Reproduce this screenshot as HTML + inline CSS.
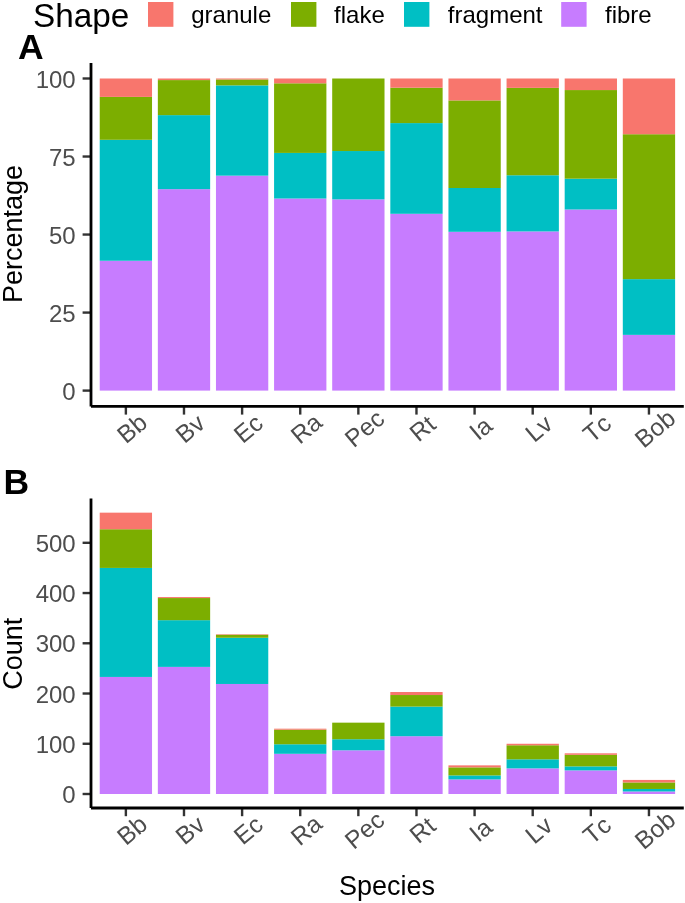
<!DOCTYPE html>
<html><head><meta charset="utf-8"><style>
html,body{margin:0;padding:0;background:#fff;}
body{width:685px;height:903px;overflow:hidden;}
svg{display:block;will-change:transform;}
text{font-family:"Liberation Sans",sans-serif;font-kerning:none;}
.tk{font-size:24px;fill:#4D4D4D;}
.ti{font-size:27px;fill:#000;}
.lg{font-size:24px;fill:#000;}
.sh{font-size:33.3px;fill:#000;}
.tag{font-size:35.5px;fill:#000;font-weight:bold;}
</style></head><body>
<svg width="685" height="903" viewBox="0 0 685 903">
<rect width="685" height="903" fill="#fff"/>
<rect x="99.72" y="260.74" width="52.31" height="129.86" fill="#C77CFF"/>
<rect x="99.72" y="139.81" width="52.31" height="120.94" fill="#00BFC4"/>
<rect x="99.72" y="96.89" width="52.31" height="42.91" fill="#7CAE00"/>
<rect x="99.72" y="78.5" width="52.31" height="18.39" fill="#F8766D"/>
<rect x="157.84" y="189.17" width="52.31" height="201.43" fill="#C77CFF"/>
<rect x="157.84" y="115.12" width="52.31" height="74.04" fill="#00BFC4"/>
<rect x="157.84" y="80.09" width="52.31" height="35.03" fill="#7CAE00"/>
<rect x="157.84" y="78.5" width="52.31" height="1.59" fill="#F8766D"/>
<rect x="215.96" y="175.66" width="52.31" height="214.94" fill="#C77CFF"/>
<rect x="215.96" y="85.37" width="52.31" height="90.29" fill="#00BFC4"/>
<rect x="215.96" y="79.48" width="52.31" height="5.89" fill="#7CAE00"/>
<rect x="215.96" y="78.5" width="52.31" height="0.98" fill="#F8766D"/>
<rect x="274.08" y="198.54" width="52.31" height="192.06" fill="#C77CFF"/>
<rect x="274.08" y="152.92" width="52.31" height="45.61" fill="#00BFC4"/>
<rect x="274.08" y="83.3" width="52.31" height="69.62" fill="#7CAE00"/>
<rect x="274.08" y="78.5" width="52.31" height="4.8" fill="#F8766D"/>
<rect x="332.2" y="199.38" width="52.31" height="191.22" fill="#C77CFF"/>
<rect x="332.2" y="151.03" width="52.31" height="48.35" fill="#00BFC4"/>
<rect x="332.2" y="78.5" width="52.31" height="72.53" fill="#7CAE00"/>
<rect x="390.32" y="213.79" width="52.31" height="176.81" fill="#C77CFF"/>
<rect x="390.32" y="123.09" width="52.31" height="90.71" fill="#00BFC4"/>
<rect x="390.32" y="87.72" width="52.31" height="35.36" fill="#7CAE00"/>
<rect x="390.32" y="78.5" width="52.31" height="9.22" fill="#F8766D"/>
<rect x="448.44" y="231.81" width="52.31" height="158.79" fill="#C77CFF"/>
<rect x="448.44" y="188.01" width="52.31" height="43.8" fill="#00BFC4"/>
<rect x="448.44" y="100.4" width="52.31" height="87.61" fill="#7CAE00"/>
<rect x="448.44" y="78.5" width="52.31" height="21.9" fill="#F8766D"/>
<rect x="506.56" y="231.43" width="52.31" height="159.17" fill="#C77CFF"/>
<rect x="506.56" y="175.25" width="52.31" height="56.18" fill="#00BFC4"/>
<rect x="506.56" y="87.86" width="52.31" height="87.39" fill="#7CAE00"/>
<rect x="506.56" y="78.5" width="52.31" height="9.36" fill="#F8766D"/>
<rect x="564.68" y="209.5" width="52.31" height="181.1" fill="#C77CFF"/>
<rect x="564.68" y="178.68" width="52.31" height="30.82" fill="#00BFC4"/>
<rect x="564.68" y="90.06" width="52.31" height="88.62" fill="#7CAE00"/>
<rect x="564.68" y="78.5" width="52.31" height="11.56" fill="#F8766D"/>
<rect x="622.8" y="334.87" width="52.31" height="55.73" fill="#C77CFF"/>
<rect x="622.8" y="279.14" width="52.31" height="55.73" fill="#00BFC4"/>
<rect x="622.8" y="134.23" width="52.31" height="144.9" fill="#7CAE00"/>
<rect x="622.8" y="78.5" width="52.31" height="55.73" fill="#F8766D"/>
<rect x="99.72" y="676.94" width="52.31" height="117.06" fill="#C77CFF"/>
<rect x="99.72" y="567.92" width="52.31" height="109.02" fill="#00BFC4"/>
<rect x="99.72" y="529.24" width="52.31" height="38.68" fill="#7CAE00"/>
<rect x="99.72" y="512.66" width="52.31" height="16.58" fill="#F8766D"/>
<rect x="157.84" y="666.89" width="52.31" height="127.11" fill="#C77CFF"/>
<rect x="157.84" y="620.17" width="52.31" height="46.72" fill="#00BFC4"/>
<rect x="157.84" y="598.06" width="52.31" height="22.11" fill="#7CAE00"/>
<rect x="157.84" y="597.06" width="52.31" height="1" fill="#F8766D"/>
<rect x="215.96" y="683.97" width="52.31" height="110.03" fill="#C77CFF"/>
<rect x="215.96" y="637.75" width="52.31" height="46.22" fill="#00BFC4"/>
<rect x="215.96" y="634.74" width="52.31" height="3.01" fill="#7CAE00"/>
<rect x="215.96" y="634.24" width="52.31" height="0.5" fill="#F8766D"/>
<rect x="274.08" y="753.81" width="52.31" height="40.19" fill="#C77CFF"/>
<rect x="274.08" y="744.26" width="52.31" height="9.55" fill="#00BFC4"/>
<rect x="274.08" y="729.69" width="52.31" height="14.57" fill="#7CAE00"/>
<rect x="274.08" y="728.69" width="52.31" height="1" fill="#F8766D"/>
<rect x="332.2" y="750.29" width="52.31" height="43.71" fill="#C77CFF"/>
<rect x="332.2" y="739.24" width="52.31" height="11.05" fill="#00BFC4"/>
<rect x="332.2" y="722.66" width="52.31" height="16.58" fill="#7CAE00"/>
<rect x="390.32" y="736.22" width="52.31" height="57.78" fill="#C77CFF"/>
<rect x="390.32" y="706.58" width="52.31" height="29.64" fill="#00BFC4"/>
<rect x="390.32" y="695.03" width="52.31" height="11.56" fill="#7CAE00"/>
<rect x="390.32" y="692.01" width="52.31" height="3.01" fill="#F8766D"/>
<rect x="448.44" y="779.43" width="52.31" height="14.57" fill="#C77CFF"/>
<rect x="448.44" y="775.41" width="52.31" height="4.02" fill="#00BFC4"/>
<rect x="448.44" y="767.37" width="52.31" height="8.04" fill="#7CAE00"/>
<rect x="448.44" y="765.36" width="52.31" height="2.01" fill="#F8766D"/>
<rect x="506.56" y="768.38" width="52.31" height="25.62" fill="#C77CFF"/>
<rect x="506.56" y="759.33" width="52.31" height="9.04" fill="#00BFC4"/>
<rect x="506.56" y="745.27" width="52.31" height="14.07" fill="#7CAE00"/>
<rect x="506.56" y="743.76" width="52.31" height="1.51" fill="#F8766D"/>
<rect x="564.68" y="770.39" width="52.31" height="23.61" fill="#C77CFF"/>
<rect x="564.68" y="766.37" width="52.31" height="4.02" fill="#00BFC4"/>
<rect x="564.68" y="754.81" width="52.31" height="11.56" fill="#7CAE00"/>
<rect x="564.68" y="753.31" width="52.31" height="1.51" fill="#F8766D"/>
<rect x="622.8" y="791.49" width="52.31" height="2.51" fill="#C77CFF"/>
<rect x="622.8" y="788.98" width="52.31" height="2.51" fill="#00BFC4"/>
<rect x="622.8" y="782.44" width="52.31" height="6.53" fill="#7CAE00"/>
<rect x="622.8" y="779.93" width="52.31" height="2.51" fill="#F8766D"/>
<line x1="82.6" y1="390.6" x2="91" y2="390.6" stroke="#333333" stroke-width="2.4"/>
<text x="75.7" y="399.7" class="tk" text-anchor="end">0</text>
<line x1="82.6" y1="312.58" x2="91" y2="312.58" stroke="#333333" stroke-width="2.4"/>
<text x="75.7" y="321.68" class="tk" text-anchor="end">25</text>
<line x1="82.6" y1="234.55" x2="91" y2="234.55" stroke="#333333" stroke-width="2.4"/>
<text x="75.7" y="243.65" class="tk" text-anchor="end">50</text>
<line x1="82.6" y1="156.53" x2="91" y2="156.53" stroke="#333333" stroke-width="2.4"/>
<text x="75.7" y="165.63" class="tk" text-anchor="end">75</text>
<line x1="82.6" y1="78.5" x2="91" y2="78.5" stroke="#333333" stroke-width="2.4"/>
<text x="75.7" y="87.6" class="tk" text-anchor="end">100</text>
<line x1="125.87" y1="406.4" x2="125.87" y2="414.6" stroke="#333333" stroke-width="2.4"/>
<text class="tk xl" style="font-size:24.6px" text-anchor="middle" transform="translate(131.77 428.2) rotate(-40)" y="8.8">Bb</text>
<line x1="183.99" y1="406.4" x2="183.99" y2="414.6" stroke="#333333" stroke-width="2.4"/>
<text class="tk xl" style="font-size:24.6px" text-anchor="middle" transform="translate(189.89 428.2) rotate(-40)" y="8.8">Bv</text>
<line x1="242.11" y1="406.4" x2="242.11" y2="414.6" stroke="#333333" stroke-width="2.4"/>
<text class="tk xl" style="font-size:24.6px" text-anchor="middle" transform="translate(248.01 428.2) rotate(-40)" y="8.8">Ec</text>
<line x1="300.23" y1="406.4" x2="300.23" y2="414.6" stroke="#333333" stroke-width="2.4"/>
<text class="tk xl" style="font-size:24.6px" text-anchor="middle" transform="translate(306.13 428.2) rotate(-40)" y="8.8">Ra</text>
<line x1="358.35" y1="406.4" x2="358.35" y2="414.6" stroke="#333333" stroke-width="2.4"/>
<text class="tk xl" style="font-size:24.6px" text-anchor="middle" transform="translate(364.25 428.2) rotate(-40)" y="8.8">Pec</text>
<line x1="416.47" y1="406.4" x2="416.47" y2="414.6" stroke="#333333" stroke-width="2.4"/>
<text class="tk xl" style="font-size:24.6px" text-anchor="middle" transform="translate(422.37 428.2) rotate(-40)" y="8.8">Rt</text>
<line x1="474.59" y1="406.4" x2="474.59" y2="414.6" stroke="#333333" stroke-width="2.4"/>
<text class="tk xl" style="font-size:24.6px" text-anchor="middle" transform="translate(480.49 428.2) rotate(-40)" y="8.8">Ia</text>
<line x1="532.71" y1="406.4" x2="532.71" y2="414.6" stroke="#333333" stroke-width="2.4"/>
<text class="tk xl" style="font-size:24.6px" text-anchor="middle" transform="translate(538.61 428.2) rotate(-40)" y="8.8">Lv</text>
<line x1="590.83" y1="406.4" x2="590.83" y2="414.6" stroke="#333333" stroke-width="2.4"/>
<text class="tk xl" style="font-size:24.6px" text-anchor="middle" transform="translate(596.73 428.2) rotate(-40)" y="8.8">Tc</text>
<line x1="648.95" y1="406.4" x2="648.95" y2="414.6" stroke="#333333" stroke-width="2.4"/>
<text class="tk xl" style="font-size:24.6px" text-anchor="middle" transform="translate(654.85 428.2) rotate(-40)" y="8.8">Bob</text>
<line x1="91" y1="63" x2="91" y2="406.4" stroke="#000" stroke-width="2.8"/>
<line x1="91" y1="406.4" x2="683.8" y2="406.4" stroke="#000" stroke-width="2.8"/>
<line x1="82.6" y1="794" x2="91" y2="794" stroke="#333333" stroke-width="2.4"/>
<text x="75.7" y="803.1" class="tk" text-anchor="end">0</text>
<line x1="82.6" y1="743.76" x2="91" y2="743.76" stroke="#333333" stroke-width="2.4"/>
<text x="75.7" y="752.86" class="tk" text-anchor="end">100</text>
<line x1="82.6" y1="693.52" x2="91" y2="693.52" stroke="#333333" stroke-width="2.4"/>
<text x="75.7" y="702.62" class="tk" text-anchor="end">200</text>
<line x1="82.6" y1="643.28" x2="91" y2="643.28" stroke="#333333" stroke-width="2.4"/>
<text x="75.7" y="652.38" class="tk" text-anchor="end">300</text>
<line x1="82.6" y1="593.04" x2="91" y2="593.04" stroke="#333333" stroke-width="2.4"/>
<text x="75.7" y="602.14" class="tk" text-anchor="end">400</text>
<line x1="82.6" y1="542.8" x2="91" y2="542.8" stroke="#333333" stroke-width="2.4"/>
<text x="75.7" y="551.9" class="tk" text-anchor="end">500</text>
<line x1="125.87" y1="808" x2="125.87" y2="816.2" stroke="#333333" stroke-width="2.4"/>
<text class="tk xl" style="font-size:24.6px" text-anchor="middle" transform="translate(131.77 829.8) rotate(-40)" y="8.8">Bb</text>
<line x1="183.99" y1="808" x2="183.99" y2="816.2" stroke="#333333" stroke-width="2.4"/>
<text class="tk xl" style="font-size:24.6px" text-anchor="middle" transform="translate(189.89 829.8) rotate(-40)" y="8.8">Bv</text>
<line x1="242.11" y1="808" x2="242.11" y2="816.2" stroke="#333333" stroke-width="2.4"/>
<text class="tk xl" style="font-size:24.6px" text-anchor="middle" transform="translate(248.01 829.8) rotate(-40)" y="8.8">Ec</text>
<line x1="300.23" y1="808" x2="300.23" y2="816.2" stroke="#333333" stroke-width="2.4"/>
<text class="tk xl" style="font-size:24.6px" text-anchor="middle" transform="translate(306.13 829.8) rotate(-40)" y="8.8">Ra</text>
<line x1="358.35" y1="808" x2="358.35" y2="816.2" stroke="#333333" stroke-width="2.4"/>
<text class="tk xl" style="font-size:24.6px" text-anchor="middle" transform="translate(364.25 829.8) rotate(-40)" y="8.8">Pec</text>
<line x1="416.47" y1="808" x2="416.47" y2="816.2" stroke="#333333" stroke-width="2.4"/>
<text class="tk xl" style="font-size:24.6px" text-anchor="middle" transform="translate(422.37 829.8) rotate(-40)" y="8.8">Rt</text>
<line x1="474.59" y1="808" x2="474.59" y2="816.2" stroke="#333333" stroke-width="2.4"/>
<text class="tk xl" style="font-size:24.6px" text-anchor="middle" transform="translate(480.49 829.8) rotate(-40)" y="8.8">Ia</text>
<line x1="532.71" y1="808" x2="532.71" y2="816.2" stroke="#333333" stroke-width="2.4"/>
<text class="tk xl" style="font-size:24.6px" text-anchor="middle" transform="translate(538.61 829.8) rotate(-40)" y="8.8">Lv</text>
<line x1="590.83" y1="808" x2="590.83" y2="816.2" stroke="#333333" stroke-width="2.4"/>
<text class="tk xl" style="font-size:24.6px" text-anchor="middle" transform="translate(596.73 829.8) rotate(-40)" y="8.8">Tc</text>
<line x1="648.95" y1="808" x2="648.95" y2="816.2" stroke="#333333" stroke-width="2.4"/>
<text class="tk xl" style="font-size:24.6px" text-anchor="middle" transform="translate(654.85 829.8) rotate(-40)" y="8.8">Bob</text>
<line x1="91" y1="498.5" x2="91" y2="808" stroke="#000" stroke-width="2.8"/>
<line x1="91" y1="808" x2="683.8" y2="808" stroke="#000" stroke-width="2.8"/>
<text class="ti" transform="translate(22 234) rotate(-90)" text-anchor="middle">Percentage</text>
<text class="ti" transform="translate(22 653.7) rotate(-90)" text-anchor="middle">Count</text>
<text class="ti" x="387" y="895" text-anchor="middle">Species</text>
<text class="tag" x="18" y="58.6">A</text>
<text class="tag" x="3.4" y="494">B</text>
<text class="sh" x="33" y="27">Shape</text>
<rect x="148" y="2" width="25.4" height="24.8" fill="#F8766D"/>
<text class="lg" x="191.2" y="23.4">granule</text>
<rect x="291" y="2" width="25.4" height="24.8" fill="#7CAE00"/>
<text class="lg" x="334.1" y="23.4">flake</text>
<rect x="404" y="2" width="25.4" height="24.8" fill="#00BFC4"/>
<text class="lg" x="447.8" y="23.4">fragment</text>
<rect x="561.2" y="2" width="25.4" height="24.8" fill="#C77CFF"/>
<text class="lg" x="605" y="23.4">fibre</text>
</svg>
</body></html>
